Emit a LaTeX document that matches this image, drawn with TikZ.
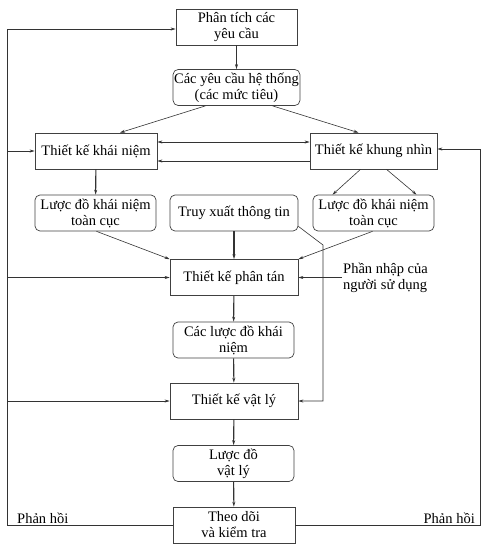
\documentclass[tikz,border=0pt]{standalone}
\usepackage{fontspec}
\setmainfont{Liberation Serif}
\usetikzlibrary{arrows.meta}

\begin{document}
\begin{tikzpicture}[x=1pt,y=-1pt,
    font=\fontsize{14.5}{16}\selectfont,
    box/.style={draw=black!75,line width=0.7pt,align=center,inner sep=1pt,minimum height=36pt},
    rbox/.style={box,rounded corners=5pt},
    arr/.style={draw=black!80,line width=0.6pt,-{Stealth[length=5pt,width=3pt]}},
    thick arr/.style={arr,line width=1.1pt}]
  \useasboundingbox (0,0) rectangle (495,549);
  \node[box,minimum width=121pt] (req) at (236.5,27) {Phân tích các\\yêu cầu};
  \node[rbox,minimum width=121pt] (sysreq) at (236.5,87.5) {Các yêu cầu hệ thống\\(các mức tiêu)};
  \node[box,minimum width=122pt] (concept) at (96,151) {Thiết kế khái niệm};
  \node[box,minimum width=127pt] (view) at (373.5,151) {Thiết kế khung nhìn};
  \node[rbox,minimum width=121pt] (gcsL) at (95.5,213) {Lược đồ khái niệm\\toàn cục};
  \node[rbox,minimum width=128pt] (info) at (234,213) {Truy xuất thông tin};
  \node[rbox,minimum width=121pt] (gcsR) at (373.5,213) {Lược đồ khái niệm\\toàn cục};
  \node[box,minimum width=128pt] (distr) at (234,277.5) {Thiết kế phân tán};
  \node[anchor=west,align=left,inner sep=1pt] (userin) at (342,277.5) {Phần nhập của\\người sử dụng};
  \node[rbox,minimum width=121pt] (lcs) at (233.5,340) {Các lược đồ khái\\niệm};
  \node[box,minimum width=128pt] (phys) at (234,401) {Thiết kế vật lý};
  \node[rbox,minimum width=121pt] (pschema) at (233.5,463.5) {Lược đồ\\vật lý};
  \node[box,minimum width=122pt] (monitor) at (234,525) {Theo dõi\\và kiểm tra};
  \coordinate (fbl) at (7,525);
  \coordinate (fbr) at (480,525);
  \coordinate (bend) at (323,245);
  % main flow
  \draw[thick arr] (req) -- (sysreq);
  \draw[arr] ([xshift=-31pt]sysreq.south) -- ([xshift=24pt]concept.north);
  \draw[arr] ([xshift=36pt]sysreq.south) -- ([xshift=-15pt]view.north);
  \draw[arr,{Stealth[length=5pt,width=3pt]}-{Stealth[length=5pt,width=3pt]}] ([yshift=9pt]concept.east) -- ([yshift=9pt]view.west);
  \draw[arr] ([yshift=-10pt]view.west) -- ([yshift=-10pt]concept.east);
  \draw[thick arr] (concept) -- (gcsL);
  \draw[arr] ([xshift=-13pt]view.south) -- ([xshift=-41pt]gcsR.north);
  \draw[arr] ([xshift=13pt]view.south) -- ([xshift=43pt]gcsR.north);
  \draw[arr] ([xshift=1pt]gcsL.south) -- (distr.north west);
  \draw[arr] ([xshift=-1pt]gcsR.south) -- (distr.north east);
  \draw[thick arr] (info) -- (distr);
  \draw[arr] ([yshift=5pt]info.south east) -- (bend) |- (phys.east);
  \draw[arr] (userin.west) -- (distr.east);
  \draw[thick arr] (distr) -- (lcs);
  \draw[thick arr] (lcs) -- (phys);
  \draw[thick arr] (phys) -- (pschema);
  \draw[thick arr] (pschema) -- (monitor);
  % feedback
  \draw[arr] (monitor.west) -- (fbl) |- ([yshift=-2pt]req.west);
  \draw[arr] (fbl |- concept.west) -- (concept.west);
  \draw[arr] (fbl |- distr.west) -- (distr.west);
  \draw[arr] (fbl |- phys.west) -- (phys.west);
  \draw[arr] (monitor.east) -- (fbr) |- ([yshift=2pt]view.east);
  \node[anchor=south west,inner sep=1pt] (fbltext) at (16,525) {Phản hồi};
  \node[anchor=south east,inner sep=1pt] (fbrtext) at (476,525) {Phản hồi};
\end{tikzpicture}
\end{document}
